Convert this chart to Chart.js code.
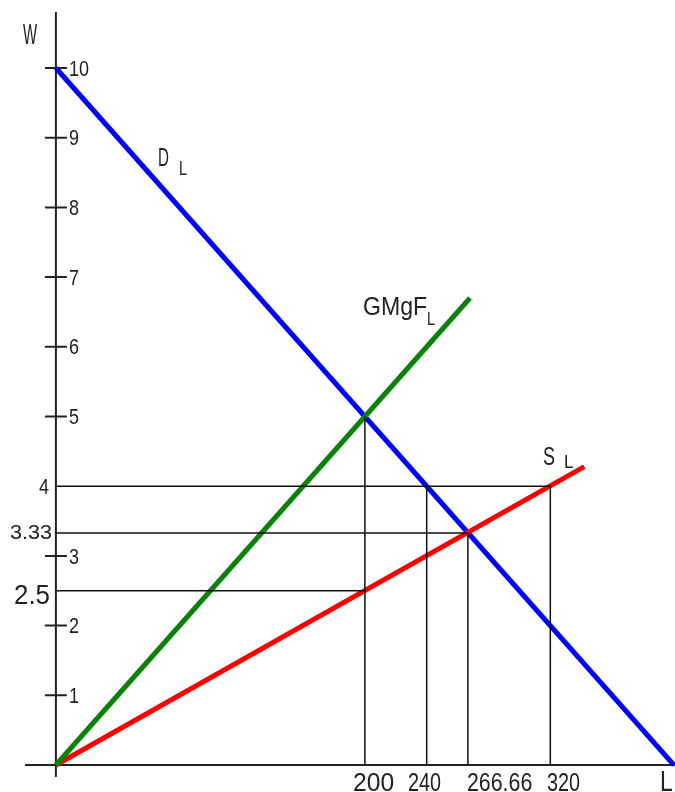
<!DOCTYPE html>
<html>
<head>
<meta charset="utf-8">
<title>W - L</title>
<script src="https://cdn.jsdelivr.net/npm/chart.js@4.4.0/dist/chart.umd.min.js"></script>
<style>
  body { margin: 0; background: #fff; }
  canvas { display: block; }
</style>
</head>
<body>
<canvas id="chLabor" width="675" height="792"></canvas>
<script>
// labour demand D_L: W = 10 - L/40
var demandL = [0, 400];
var demandW = [10, 0];
// marginal factor cost GMgF_L: W = L/40
var gmgfL = [0, 268];
var gmgfW = [0, 6.7];
// labour supply S_L: W = L/80
var supplyL = [0, 342];
var supplyW = [0, 4.28];

// reference lines (L, W pairs)
var guide200L = [0, 200, 200];
var guide200W = [2.5, 2.5, 0];
var guide200upL = [200, 200];
var guide200upW = [2.5, 5];
var guide240L = [240, 240];
var guide240W = [0, 4];
var guide266L = [0, 266.66, 266.66];
var guide266W = [3.33, 3.33, 0];
var guide320L = [0, 320, 320];
var guide320W = [4, 4, 0];

// axis ticks and marked values
var yTicks = [1, 2, 3, 5, 6, 7, 8, 9, 10];
var yMarked = [4, 3.33, 2.5];
var yMarkedText = ['4', '3.33', '2.5'];
var xMarked = [200, 240, 266.66, 320];
var xMarkedText = ['200', '240', '266.66', '320'];

function pts(xs, ys) {
	return xs.map(function (x, i) { return { x: x, y: ys[i] }; });
}

function line(xs, ys, color, width) {
	return {
		data: pts(xs, ys),
		showLine: true,
		borderColor: color,
		borderWidth: width,
		pointRadius: 0,
		tension: 0,
		fill: false
	};
}

// stretched text, the original lettering is tall and narrow
function txt(ctx, s, x, y, size, sx, sy, align) {
	ctx.save();
	ctx.translate(x, y);
	ctx.scale(sx, sy);
	ctx.font = size + 'px "Liberation Sans", Arial, sans-serif';
	ctx.textAlign = align || 'left';
	ctx.textBaseline = 'alphabetic';
	ctx.fillStyle = '#222';
	ctx.fillText(s, 0, 0);
	ctx.restore();
}

var axesPlugin = {
	id: 'axesPlugin',
	beforeDatasetsDraw: function (chart) {
		var ctx = chart.ctx, a = chart.chartArea;
		var xs = chart.scales.x, ys = chart.scales.y;
		var x0 = xs.getPixelForValue(0), y0 = ys.getPixelForValue(0);
		ctx.save();
		ctx.strokeStyle = '#222';
		ctx.lineWidth = 2;
		ctx.beginPath();
		ctx.moveTo(x0, a.top);
		ctx.lineTo(x0, a.bottom);
		ctx.moveTo(a.left, y0);
		ctx.lineTo(a.right, y0);
		// small cross ticks on W axis
		yTicks.forEach(function (v) {
			var py = ys.getPixelForValue(v);
			ctx.moveTo(x0 - 11, py);
			ctx.lineTo(x0 + 11, py);
		});
		ctx.stroke();
		ctx.restore();
	},
	afterDraw: function (chart) {
		var ctx = chart.ctx;
		var xs = chart.scales.x, ys = chart.scales.y;
		var x0 = xs.getPixelForValue(0);
		yTicks.forEach(function (v) {
			txt(ctx, String(v), x0 + 13, ys.getPixelForValue(v) + 7.7, 18, 1, 1.2);
		});
		txt(ctx, yMarkedText[0], 49, ys.getPixelForValue(yMarked[0]) + 7.7, 18, 1, 1.2, 'right');
		txt(ctx, yMarkedText[1], 52, ys.getPixelForValue(yMarked[1]) + 6.5, 20, 1.08, 1.05, 'right');
		txt(ctx, yMarkedText[2], 50, ys.getPixelForValue(yMarked[2]) + 13, 24, 1.08, 1.16, 'right');

		var xLeft = [353, 408, 467, 547];
		var xScaleW = [1.12, 0.9, 0.97, 0.9];
		xMarked.forEach(function (v, i) {
			txt(ctx, xMarkedText[i], xLeft[i], 791, 22, xScaleW[i], 1.2);
		});
		txt(ctx, 'L', 660, 791, 22, 1.05, 1.35);
		txt(ctx, 'W', 23, 44, 22, 0.68, 1.3);

		txt(ctx, 'D', 158, 166, 20, 0.76, 1.3);
		txt(ctx, 'L', 179, 175, 16, 0.9, 1.3);
		txt(ctx, 'GMgF', 363, 315, 22, 1.05, 1.15);
		txt(ctx, 'L', 427, 325, 16, 0.9, 1.15);
		txt(ctx, 'S', 543, 465, 20, 0.9, 1.3);
		txt(ctx, 'L', 564, 468, 18, 0.95, 1.0);
	}
};

new Chart(document.getElementById('chLabor'), {
	type: 'scatter',
	data: {
		datasets: [
			line(guide200L, guide200W, '#111', 1.5),
			line(guide200upL, guide200upW, '#111', 1.5),
			line(guide240L, guide240W, '#111', 1.5),
			line(guide266L, guide266W, '#111', 1.5),
			line(guide320L, guide320W, '#111', 1.5),
			line(gmgfL, gmgfW, '#0a820a', 5),
			line(supplyL, supplyW, '#ff0000', 5),
			line(demandL, demandW, '#0000ff', 5)
		]
	},
	options: {
		responsive: false,
		animation: false,
		devicePixelRatio: 1,
		layout: { padding: { left: 25, top: 12, right: 0, bottom: 15 } },
		plugins: {
			legend: { display: false },
			tooltip: { enabled: false },
			title: { display: false }
		},
		scales: {
			x: { type: 'linear', min: -20, max: 400.7, display: false },
			y: { type: 'linear', min: -0.172, max: 10.803, display: false }
		}
	},
	plugins: [axesPlugin]
});
</script>
</body>
</html>
